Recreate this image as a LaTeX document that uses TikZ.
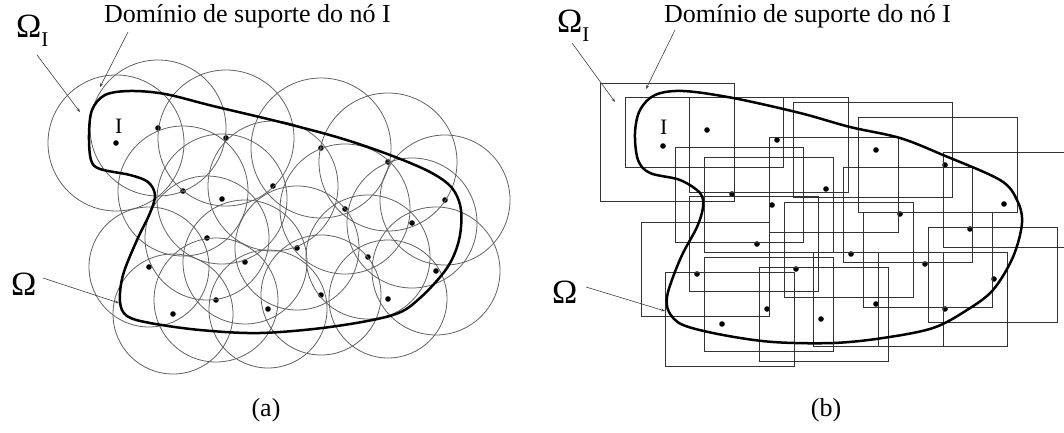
\documentclass[tikz,border=0pt]{standalone}
\usepackage{fontspec}
\setmainfont{Liberation Serif}
\usetikzlibrary{arrows.meta}
\begin{document}
\begin{tikzpicture}[x=1pt,y=-1pt,
  dotnode/.style={circle,fill=black,inner sep=0pt,minimum size=5.6pt},
  supp/.style={draw=black!62,line width=0.8pt},
  rsupp/.style={draw=black!80,line width=0.85pt},
  bound/.style={draw=black,line width=2.5pt,line join=round},
  lbl/.style={inner sep=0pt},
  ptr/.style={draw=black!75,line width=0.6pt,-{Stealth[length=4pt,width=3pt]}},
  big/.style={font=\fontsize{34}{34}\selectfont},
  mid/.style={font=\fontsize{26}{26}\selectfont},
  sml/.style={font=\fontsize{22}{22}\selectfont},
  captext/.style={font=\fontsize{26}{26}\selectfont},
]
\useasboundingbox (0,0) rectangle (1064,433);

% ---------------- (a) ----------------
\foreach \n/\x/\y in {1/116/143,2/158/128,3/226/138,4/321/148,5/388/162,6/183/191,7/222/199,8/273/186,9/345/209,10/412/223,11/445/200,12/207/238,13/245/262,14/149/267,15/297/248,16/368/257,17/436/271,18/216/300,19/173/314,20/268/309,21/321/295,22/388/299}
  \node[dotnode] (a\n) at (\x,\y) {};
\foreach \n/\r in {1/68,2/68,3/68,4/70,5/69,6/65,7/65,8/65,9/65,10/65,11/65,12/62,13/62,14/60,15/62,16/62,17/64,18/62,19/60,20/59,21/60,22/59}
  \draw[supp] (a\n) circle[radius=\r];
\draw[bound] plot[smooth cycle,tension=0.55] coordinates {(105,95) (130,91) (165,94) (213,106) (280,122) (340,138) (390,155) (430,172) (452,188) (461,210) (459,240) (447,268) (420,298) (393,315) (330,327) (260,333) (200,330) (150,323) (127,316) (120,302) (123,275) (137,240) (150,213) (155,195) (148,182) (130,175) (100,169) (91,160) (89,135) (92,110)};

\node[lbl,sml,anchor=base west] (aI) at (115,133) {I};
\node[lbl,big,anchor=base west] (aOmI) at (16,38) {Ω\raisebox{-9pt}{\fontsize{21}{21}\selectfont I}};
\node[lbl,mid,anchor=base west] (aDom) at (104,23) {Domínio de suporte do nó I};
\node[lbl,big,anchor=base west] (aOm) at (11,295) {Ω};
\node[lbl,captext] (capa) at (266,410) {(a)};

\coordinate (aOmIt) at (37,55);   \coordinate (aOmIh) at (80,112);
\coordinate (aDomt) at (128,32);  \coordinate (aDomh) at (100,87);
\coordinate (aOmt) at (43,278);   \coordinate (aOmh) at (119,303);
\draw[ptr] (aOmIt) -- (aOmIh);
\draw[ptr] (aDomt) -- (aDomh);
\draw[ptr] (aOmt) -- (aOmh);

% ---------------- (b) ----------------
\foreach \n/\x/\y in {1/663/146,2/707/130,3/777/140,4/876/150,5/945/165,6/732/194,7/772/205,8/826/189,9/900/214,10/1004/204,11/970/229,12/757/244,13/851/254,14/796/269,15/697/274,16/925/264,17/994/279,18/767/309,19/722/324,20/821/319,21/876/304,22/945/309}
  \node[dotnode] (b\n) at (\x,\y) {};
\foreach \xa/\ya/\xb/\yb in {600/83/734/201, 625/97/783/167, 689/97/848/192, 793/102/952/197, 858/117/1017/212, 675/147/803/242, 704/157/833/252, 769/137/898/232, 843/167/972/262, 943/152/1072/247, 689/196/818/291, 784/202/913/297, 641/222/769/316, 863/212/992/307, 928/227/1057/322, 704/257/833/351, 665/272/794/366, 759/267/888/361, 813/252/943/346, 878/252/1007/346}
  \draw[rsupp] (\xa,\ya) rectangle (\xb,\yb);
\draw[bound] plot[smooth cycle,tension=0.55] coordinates {(655,95) (683,91) (733,98) (800,113) (850,127) (900,138) (943,155) (1000,180) (1017,200) (1022,223) (1013,257) (993,290) (967,310) (933,328) (883,338) (833,343) (773,342) (723,335) (683,325) (669,312) (667,297) (673,277) (683,253) (697,227) (703,207) (700,193) (680,180) (650,173) (638,160) (635,133) (640,110)};

\node[lbl,sml,anchor=base west] (bI) at (660,135) {I};
\node[lbl,big,anchor=base west] (bOmI) at (557,33) {Ω\raisebox{-9pt}{\fontsize{21}{21}\selectfont I}};
\node[lbl,mid,anchor=base west] (bDom) at (664,23) {Domínio de suporte do nó I};
\node[lbl,big,anchor=base west] (bOm) at (552,303) {Ω};
\node[lbl,captext] (capb) at (826,410) {(b)};

\coordinate (bOmIt) at (572,43);  \coordinate (bOmIh) at (615,102);
\coordinate (bDomt) at (675,30);  \coordinate (bDomh) at (646,89);
\coordinate (bOmt) at (586,287);  \coordinate (bOmh) at (665,311);
\draw[ptr] (bOmIt) -- (bOmIh);
\draw[ptr] (bDomt) -- (bDomh);
\draw[ptr] (bOmt) -- (bOmh);
\end{tikzpicture}
\end{document}
